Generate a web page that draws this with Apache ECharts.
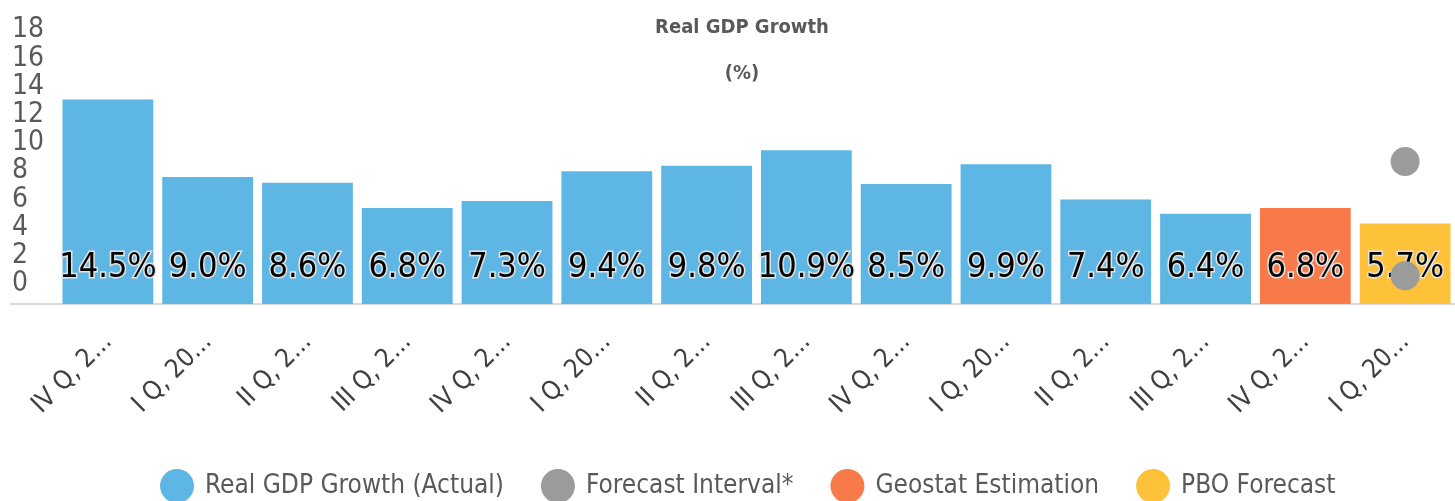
<!DOCTYPE html>
<html>
<head>
<meta charset="utf-8">
<script src="https://cdn.jsdelivr.net/npm/echarts@6/dist/echarts.min.js"></script>
<style>
  html, body { margin: 0; padding: 0; background: #fff; }
  #chart { width: 1455px; height: 501px; }
</style>
</head>
<body>
<div id="chart"></div>
<script>
  // quarters (labels get cut by the axis label width, like the original)
  const quarters = ['IV Q, 2021', 'I Q, 2022', 'II Q, 2022', 'III Q, 2022', 'IV Q, 2022',
    'I Q, 2023', 'II Q, 2023', 'III Q, 2023', 'IV Q, 2023', 'I Q, 2024', 'II Q, 2024',
    'III Q, 2024', 'IV Q, 2024', 'I Q, 2025'];
  const actual = [14.5, 9.0, 8.6, 6.8, 7.3, 9.4, 9.8, 10.9, 8.5, 9.9, 7.4, 6.4, '-', '-'];
  const geostat = ['-', '-', '-', '-', '-', '-', '-', '-', '-', '-', '-', '-', 6.8, '-'];
  const pbo = ['-', '-', '-', '-', '-', '-', '-', '-', '-', '-', '-', '-', '-', 5.7];
  // forecast interval, low and high end for the last quarter
  const intervalLow = [13, 2.0];
  const intervalHigh = [13, 10.1];
  const yTicks = [0, 18, 2]; // min, max, step

  const font = '"Liberation Sans Narrow", "DejaVu Sans Condensed", sans-serif';

  let myChart = echarts.init(document.getElementById('chart'));

  let barLabel = {
    show: true,
    position: 'insideBottom',
    distance: 19,
    formatter: function (p) {
      return p.value.toFixed(1) + '%';
    },
    color: '#000',
    fontFamily: font,
    fontSize: 34,
    textBorderColor: '#e3e3e3',
    textBorderWidth: 3
  };

  let option = {
    animation: false,
    textStyle: { fontFamily: font },
    title: {
      text: 'Real GDP Growth\n(%)',
      left: 737,
      top: 0,
      textAlign: 'center',
      textStyle: {
        fontFamily: font,
        fontSize: 20,
        fontWeight: 'bold',
        color: '#595959',
        lineHeight: 46
      }
    },
    legend: {
      bottom: -7,
      left: 155,
      itemWidth: 34,
      itemHeight: 34,
      itemGap: 37,
      icon: 'circle',
      textStyle: {
        fontFamily: font,
        fontSize: 26,
        color: '#595959',
        padding: [0, 0, 0, 6]
      },
      data: ['Real GDP Growth (Actual)', 'Forecast Interval*', 'Geostat Estimation', 'PBO Forecast']
    },
    grid: [{
      left: 58,
      width: 1404,
      top: 50,
      bottom: 197
    }, {
      // only to draw the long baseline that reaches under the y labels
      left: 11,
      right: -7,
      top: 50,
      bottom: 197
    }, {
      // y labels sit a bit above their ticks in the original
      left: 58,
      width: 1404,
      top: 30,
      bottom: 217
    }],
    xAxis: [{
      type: 'category',
      gridIndex: 0,
      data: quarters,
      axisLine: { show: false },
      axisTick: { show: false },
      axisLabel: {
        interval: 0,
        rotate: 45,
        margin: 34,
        width: 106,
        overflow: 'truncate',
        fontFamily: font,
        fontSize: 26,
        color: '#404040'
      }
    }, {
      type: 'value',
      gridIndex: 1,
      axisLine: { show: true, lineStyle: { color: '#d9d9d9', width: 2 } },
      axisTick: { show: false },
      axisLabel: { show: false },
      splitLine: { show: false }
    }, {
      type: 'value',
      gridIndex: 2,
      show: false
    }],
    yAxis: [{
      type: 'value',
      gridIndex: 0,
      min: yTicks[0],
      max: yTicks[1],
      interval: yTicks[2],
      show: false
    }, {
      type: 'value',
      gridIndex: 1,
      show: false
    }, {
      type: 'value',
      gridIndex: 2,
      min: yTicks[0],
      max: yTicks[1],
      interval: yTicks[2],
      axisLine: { show: false },
      axisTick: { show: false },
      splitLine: { show: false },
      axisLabel: {
        showMinLabel: true,
        showMaxLabel: true,
        align: 'left',
        margin: 46,
        verticalAlign: 'middle',
        lineHeight: 27,
        fontFamily: font,
        fontSize: 28,
        color: '#595959'
      }
    }],
    series: [{
      name: 'Real GDP Growth (Actual)',
      type: 'bar',
      stack: 'gdp',
      barCategoryGap: '9%',
      itemStyle: { color: '#5EB6E4' },
      label: barLabel,
      data: actual
    }, {
      name: 'Geostat Estimation',
      type: 'bar',
      stack: 'gdp',
      itemStyle: { color: '#F8794A' },
      label: barLabel,
      data: geostat
    }, {
      name: 'PBO Forecast',
      type: 'bar',
      stack: 'gdp',
      itemStyle: { color: '#FDC13A' },
      label: barLabel,
      data: pbo
    }, {
      name: 'Forecast Interval*',
      type: 'scatter',
      z: 10,
      symbolSize: 29,
      itemStyle: { color: '#9B9B9B', opacity: 1 },
      data: [intervalLow, intervalHigh]
    }]
  };
  myChart.setOption(option);
</script>
</body>
</html>
